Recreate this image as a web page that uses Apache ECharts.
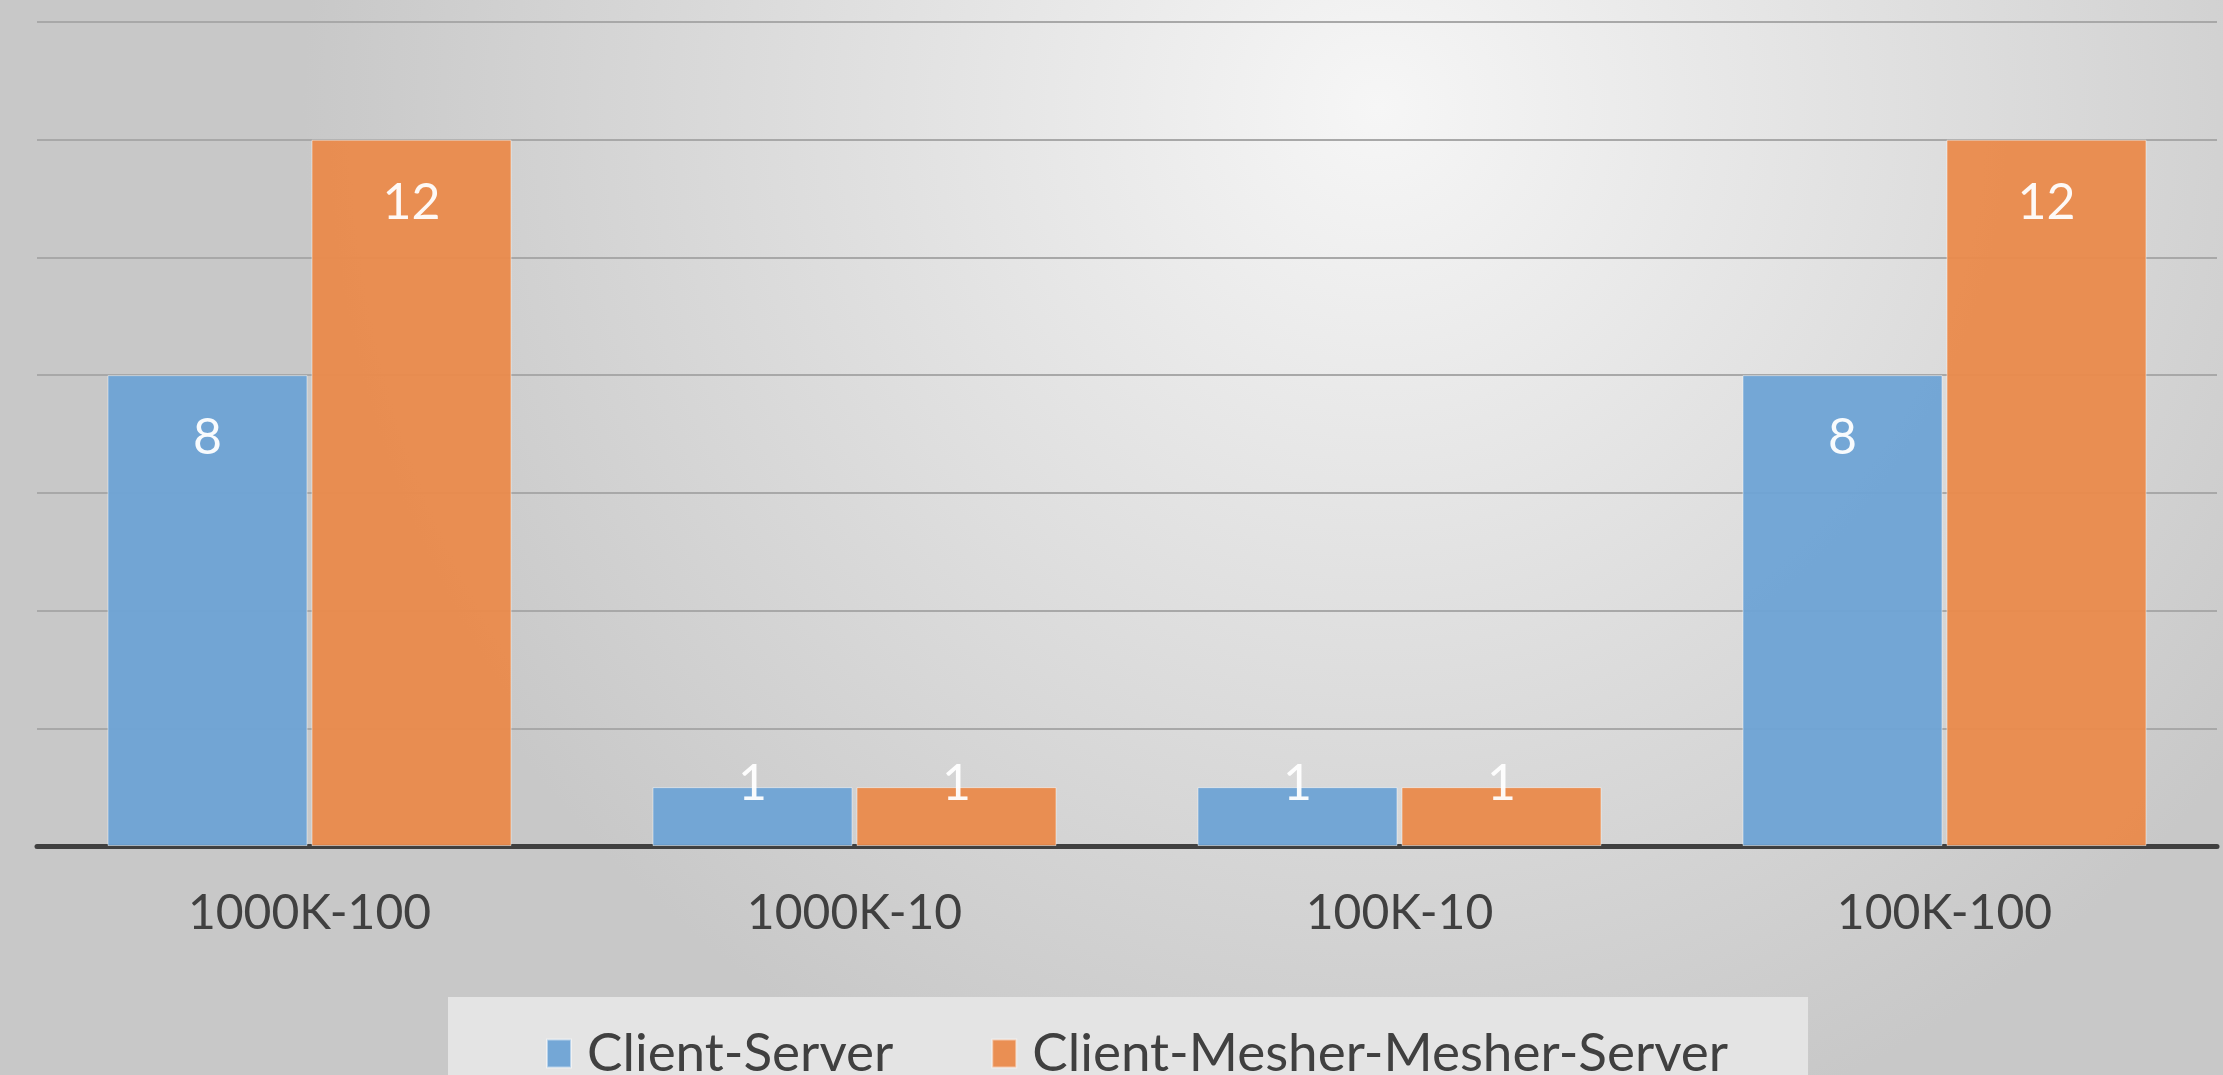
<!DOCTYPE html>
<html><head><meta charset="utf-8">
<style>html,body{margin:0;padding:0;}#c{width:2223px;height:1075px;}</style>
<script src="https://cdn.jsdelivr.net/npm/echarts@6/dist/echarts.min.js"></script>
</head><body><div id="c"></div>
<script>
const categories = ['1000K-100', '1000K-10', '100K-10', '100K-100'];
const seriesNames = ['Client-Server', 'Client-Mesher-Mesher-Server'];
const clientServer = [8, 1, 1, 8];
const clientMesher = [12, 1, 1, 12];
const colors = ['#6ea3d5', '#ea8a4b'];

const chart = echarts.init(document.getElementById('c'));
function mkData(vals) {
  return vals.map(v => v < 2
    ? { value: v, label: { position: 'top', distance: -22 } }
    : v);
}
function mkSeries(name, vals, color) {
  return {
    name: name, type: 'bar', data: mkData(vals),
    barWidth: '36.7%', barGap: '2%',
    itemStyle: { color: color, opacity: 0.95, borderColor: 'rgba(255,255,255,0.5)', borderWidth: 1 },
    label: { show: true, position: 'insideTop', distance: 38, color: '#ffffff',
      fontFamily: 'Lato', fontSize: 50, lineHeight: 50 }
  };
}
chart.setOption({
  backgroundColor: {
    type: 'radial', x: 0.62, y: 0.1, r: 1.0,
    colorStops: [{ offset: 0, color: '#f6f6f6' }, { offset: 1, color: '#c8c8c8' }]
  },
  animation: false,
  grid: { left: 37, right: 6, top: 22, bottom: 229, containLabel: false },
  legend: {
    data: seriesNames, left: 448, top: 997,
    padding: [30, 80, 40, 98], itemGap: 98,
    backgroundColor: '#e4e4e4',
    itemWidth: 24, itemHeight: 28, icon: 'rect',
    textStyle: { color: '#404040', fontFamily: 'Lato', fontSize: 53, padding: [0, 0, 0, 11] }
  },
  xAxis: {
    type: 'category', data: categories,
    axisLine: { lineStyle: { color: '#404040', width: 5 } },
    axisTick: { show: false },
    axisLabel: { color: '#404040', fontFamily: 'Lato', fontSize: 48, margin: 44 }
  },
  yAxis: {
    type: 'value', min: 0, max: 14, interval: 2,
    axisLabel: { show: false }, axisLine: { show: false }, axisTick: { show: false },
    splitLine: { lineStyle: { color: '#a8a8a8', width: 2 } }
  },
  series: [
    mkSeries(seriesNames[0], clientServer, colors[0]),
    mkSeries(seriesNames[1], clientMesher, colors[1])
  ]
});
</script></body></html>
